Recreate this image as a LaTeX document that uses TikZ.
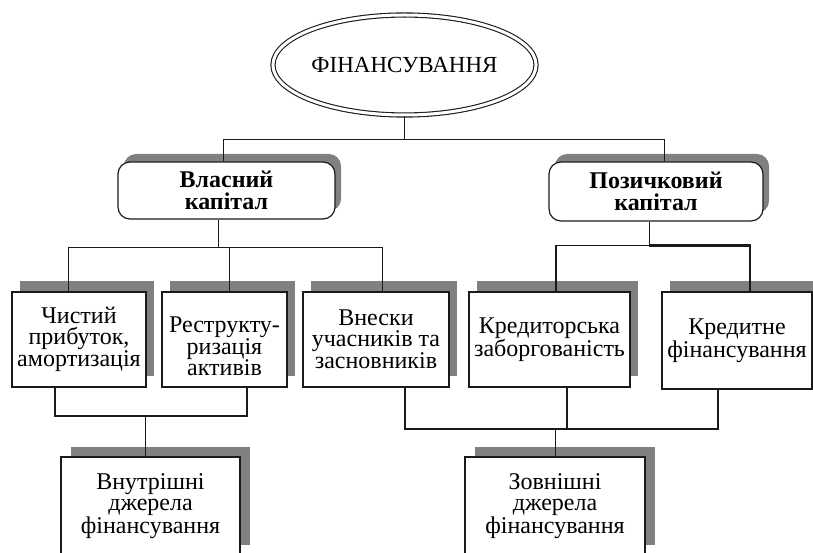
\documentclass[tikz,border=0pt]{standalone}
\usepackage{fontspec}
\setmainfont{Liberation Serif}
\usetikzlibrary{shapes.geometric,shadows}
\definecolor{shd}{HTML}{808080}
\definecolor{ink}{HTML}{1A1A1A}
\begin{document}
\begin{tikzpicture}[x=1pt,y=-1pt,
  box/.style={draw=ink, line width=1.5pt, fill=white, align=center, inner sep=0pt,
    font=\fontsize{24}{21}\selectfont},
  boxtext/.style={align=center, inner sep=0pt, font=\fontsize{24}{21}\selectfont},
  shrow/.style={drop shadow={opacity=1, fill=shd, shadow xshift=8pt, shadow yshift=11pt}},
  shlow/.style={drop shadow={opacity=1, fill=shd, shadow xshift=10pt, shadow yshift=10pt}},
  rbox/.style={draw=ink, line width=1.2pt, rounded corners=12pt, fill=white, align=center,
    inner sep=0pt, font=\bfseries\fontsize{24}{22}\selectfont,
    drop shadow={opacity=1, fill=shd, shadow xshift=6pt, shadow yshift=8pt}},
  thin/.style={draw=ink, line width=1pt},
  mid/.style={draw=ink, line width=1.5pt},
  heavy/.style={draw=ink, line width=2.4pt}]
\useasboundingbox (0,0) rectangle (813,553);
\clip (0,0) rectangle (813,553);

\node[ellipse, draw=ink, line width=1.1pt, double, double distance=3pt,
  minimum width=254pt, minimum height=100pt, inner sep=0pt,
  font=\fontsize{23}{23}\selectfont] (fin) at (404.5,65) {ФІНАНСУВАННЯ};

\node[rbox, minimum width=217pt, minimum height=57pt] (vl) at (226.5,190.5) {Власний\\капітал};
\node[rbox, minimum width=214pt, minimum height=59pt] (pk) at (656,191.5) {Позичковий\\капітал};

\node[box, shrow, minimum width=134pt, minimum height=95pt] (b1) at (79,339.5) {Чистий\\прибуток,\\амортизація};
\node[box, shrow, minimum width=125pt, minimum height=95pt] (b2) at (224.5,339.5) {};
\node[boxtext] (b2t) at ([yshift=-7pt]b2.center) {Реструкту-\\ризація\\активів};
\node[box, shrow, minimum width=146pt, minimum height=95pt] (b3) at (376,339.5) {Внески\\учасників та\\засновників};
\node[box, shrow, minimum width=161pt, minimum height=95pt] (b4) at (549.5,339.5) {Кредиторська\\заборгованість};
\node[box, shrow, minimum width=150pt, minimum height=97pt] (b5) at (737,340.5) {Кредитне\\фінансування};

\node[box, shlow, line width=2.2pt, minimum width=179pt, minimum height=98pt] (vn) at (150.5,506) {Внутрішні\\джерела\\фінансування};
\node[box, shlow, line width=2.2pt, minimum width=180pt, minimum height=98pt] (zv) at (555,506) {Зовнішні\\джерела\\фінансування};

% top level
\draw[thin] (fin.south) -- ++(0,24) coordinate (jt) -| ([xshift=-3pt]vl.north);
\draw[thin] (jt) -| ([xshift=8pt]pk.north);

% own capital
\draw[thin] ([xshift=-8pt]vl.south) -- ++(0,28) coordinate (jv);
\draw[thin] ([xshift=-11pt]b1.north) |- (jv) -| ([xshift=6pt]b3.north);
\draw[thin] ([xshift=4.5pt]b2.north) -- ([xshift=4.5pt]b2.north |- jv);

% borrowed capital
\draw[thin] ([xshift=-7pt]pk.south) -- ++(0,24) coordinate (jp);
\draw[mid] ([xshift=6.5pt]b4.north) |- (jp);
\draw[heavy] (jp) -| ([xshift=13pt]b5.north);

% internal sources
\draw[heavy] ([xshift=-24pt]b1.south) -- ++(0,28) coordinate (jl) -| ([xshift=22.5pt]b2.south);
\draw[thin] ([xshift=-5.5pt]vn.north) -- ([xshift=-5.5pt]vn.north |- jl);

% external sources
\draw[heavy] ([xshift=29pt]b3.south) -- ++(0,41) coordinate (jr) -| ([xshift=-19pt]b5.south);
\draw[heavy] ([xshift=17.5pt]b4.south) -- ([xshift=17.5pt]b4.south |- jr);
\draw[thin] (zv.north) -- (zv.north |- jr);
\end{tikzpicture}
\end{document}
